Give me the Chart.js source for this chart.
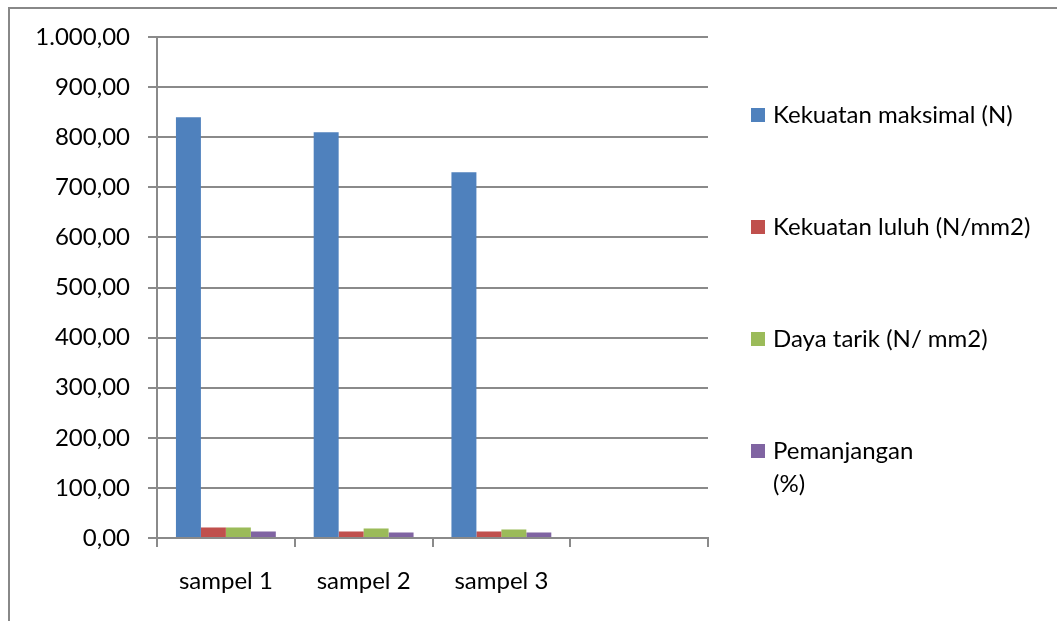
<!DOCTYPE html>
<html>
<head>
<meta charset="utf-8">
<script src="https://cdn.jsdelivr.net/npm/chart.js@4/dist/chart.umd.min.js"></script>
<style>
  html, body { margin: 0; padding: 0; background: #fff; }
  #wrap { position: relative; width: 1057px; height: 621px; }
  #frame { position: absolute; left: 8px; top: 7px; right: 0; bottom: 0;
           border-left: 2px solid #888; border-top: 2px solid #888; }
  canvas { position: absolute; left: 0; top: 0; }
</style>
</head>
<body>
<div id="wrap">
  <div id="frame"></div>
  <canvas id="c" width="1057" height="621"></canvas>
</div>
<script>
// Test results per sample
const categories = ['sampel 1', 'sampel 2', 'sampel 3', ''];
const seriesNames = ['Kekuatan maksimal (N)', 'Kekuatan luluh (N/mm2)', 'Daya tarik (N/ mm2)', 'Pemanjangan (%)'];
const legendLines = [['Kekuatan maksimal (N)'], ['Kekuatan luluh (N/mm2)'], ['Daya tarik (N/ mm2)'], ['Pemanjangan', '(%)']];
const kekuatanMaksimal = [840, 810, 730, null];
const kekuatanLuluh = [21, 13, 13, null];
const dayaTarik = [21, 19, 17, null];
const pemanjangan = [13, 11, 11, null];
const seriesColors = ['#4F81BD', '#C0504D', '#9BBB59', '#8064A2'];

const FONT = 'Lato, "Open Sans", sans-serif';
const FONT_SIZE = 24;
const GRID = '#8a8a8a';

function formatId(v) {
  const fixed = Math.abs(v).toFixed(2);
  let [intPart, dec] = fixed.split('.');
  intPart = intPart.replace(/\B(?=(\d{3})+(?!\d))/g, '.');
  return (v < 0 ? '-' : '') + intPart + ',' + dec;
}

// Legend drawn at the right of the plot, one entry per dataset
const sideLegend = {
  id: 'sideLegend',
  afterDraw(chart) {
    const ctx = chart.ctx;
    const area = chart.chartArea;
    const boxX = area.right + 43, textX = area.right + 65;
    const firstY = area.top + 78, step = 112, box = 14, lineH = 33;
    ctx.save();
    ctx.font = FONT_SIZE + 'px ' + FONT;
    ctx.textBaseline = 'middle';
    ctx.textAlign = 'left';
    chart.data.datasets.forEach((ds, i) => {
      const cy = firstY + i * step;
      ctx.fillStyle = ds.backgroundColor;
      ctx.fillRect(boxX, cy - box / 2, box, box);
      ctx.fillStyle = '#000';
      legendLines[i].forEach((line, j) => ctx.fillText(line, textX, cy + j * lineH));
    });
    ctx.restore();
  }
};

const datasets = [kekuatanMaksimal, kekuatanLuluh, dayaTarik, pemanjangan].map((vals, i) => ({
  label: seriesNames[i],
  data: vals,
  backgroundColor: seriesColors[i],
  borderWidth: 0,
  categoryPercentage: 0.725,
  barPercentage: 1.0
}));

new Chart(document.getElementById('c'), {
  type: 'bar',
  data: { labels: categories, datasets },
  options: {
    responsive: false,
    animation: false,
    layout: { padding: { top: 37, right: 349, left: 0, bottom: 0 } },
    plugins: { legend: { display: false }, tooltip: { enabled: false } },
    scales: {
      x: {
        grid: { drawOnChartArea: false, drawTicks: true, tickLength: 9, color: GRID, lineWidth: 2, offset: true },
        border: { color: GRID, width: 2 },
        ticks: { color: '#000', font: { family: FONT, size: FONT_SIZE }, padding: 20, maxRotation: 0 },
        afterFit(s) { s.height = 83; }
      },
      y: {
        min: 0, max: 1000,
        grid: { color: GRID, lineWidth: 2, tickLength: 9 },
        border: { color: GRID, width: 2 },
        ticks: { stepSize: 100, color: '#000', font: { family: FONT, size: FONT_SIZE }, padding: 18,
                 callback: v => formatId(v) },
        afterFit(s) { s.width = 157; }
      }
    }
  },
  plugins: [sideLegend]
});
</script>
</body>
</html>
